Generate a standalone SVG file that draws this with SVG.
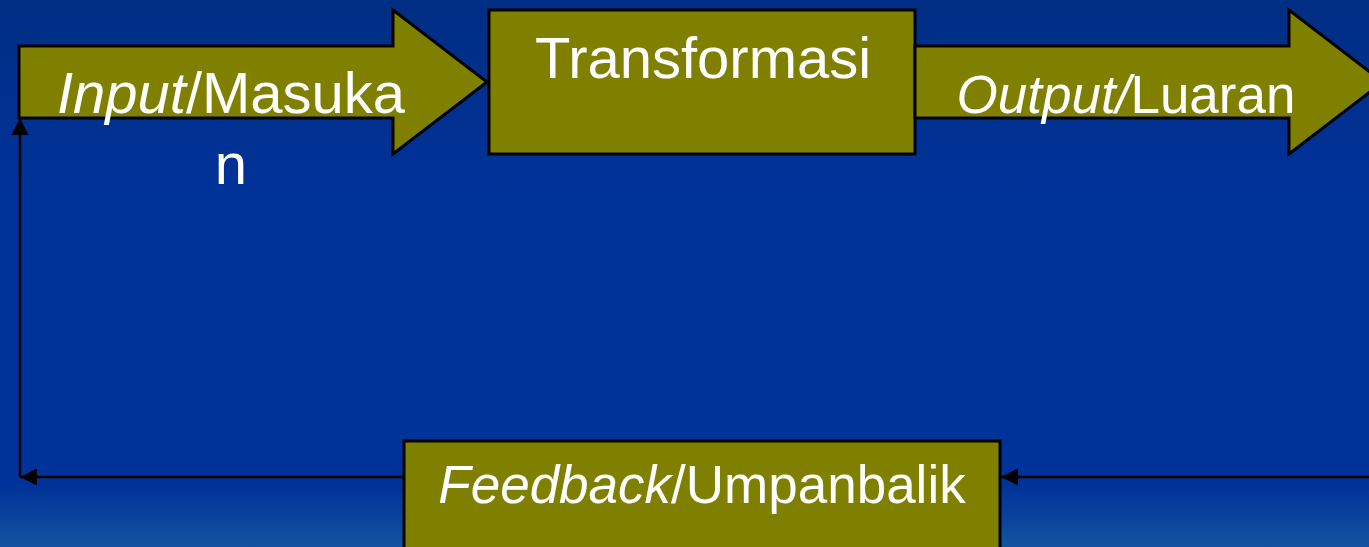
<svg xmlns="http://www.w3.org/2000/svg" width="1369" height="547" viewBox="0 0 1369 547">
  <defs>
    <linearGradient id="bg" x1="0" y1="0" x2="0" y2="1">
      <stop offset="0" stop-color="#002e84"/>
      <stop offset="0.35" stop-color="#003399"/>
      <stop offset="0.89" stop-color="#003399"/>
      <stop offset="1" stop-color="#1553a0"/>
    </linearGradient>
    <marker id="arrowHead" viewBox="0 0 10 10" refX="10" refY="5" markerWidth="17" markerHeight="17" orient="auto" markerUnits="userSpaceOnUse">
      <path d="M0,0 L10,5 L0,10 Z" fill="#000"/>
    </marker>
  </defs>
  <style>
    .shape { fill: #808000; stroke: #000; stroke-width: 3; }
    .label { font-family: "Liberation Sans", Arial, sans-serif; font-size: 58px; fill: #fff; text-anchor: middle; }
    .small { font-size: 53px; }
    .it { font-style: italic; }
    .link { fill: none; stroke: #000; stroke-width: 2.5; }
  </style>

  <rect width="1369" height="547" fill="url(#bg)"/>

  <!-- feedback loop connectors -->
  <g id="connectors">
    <line class="link" x1="1369" y1="477" x2="1001" y2="477" marker-end="url(#arrowHead)"/>
    <line class="link" x1="404" y1="477" x2="20" y2="477" marker-end="url(#arrowHead)"/>
    <line class="link" x1="20" y1="477" x2="20" y2="118" marker-end="url(#arrowHead)"/>
  </g>

  <g id="input">
    <path class="shape" d="M19,46 L393,46 L393,10 L487,82 L393,154 L393,118 L19,118 Z"/>
    <text class="label" x="231" y="113"><tspan class="it">Input</tspan>/Masuka</text>
    <text class="label" x="231" y="184">n</text>
  </g>

  <g id="transformasi">
    <rect class="shape" x="489" y="10" width="426" height="144"/>
    <text class="label" x="703" y="78">Transformasi</text>
  </g>

  <g id="output">
    <path class="shape" d="M915,46 L1289,46 L1289,10 L1383,82 L1289,154 L1289,118 L915,118 Z"/>
    <text class="label small" x="1126" y="113"><tspan class="it">Output/</tspan>Luaran</text>
  </g>

  <g id="feedback">
    <rect class="shape" x="404" y="441" width="596" height="120"/>
    <text class="label small" x="702" y="503"><tspan class="it">Feedback</tspan>/Umpanbalik</text>
  </g>
</svg>
